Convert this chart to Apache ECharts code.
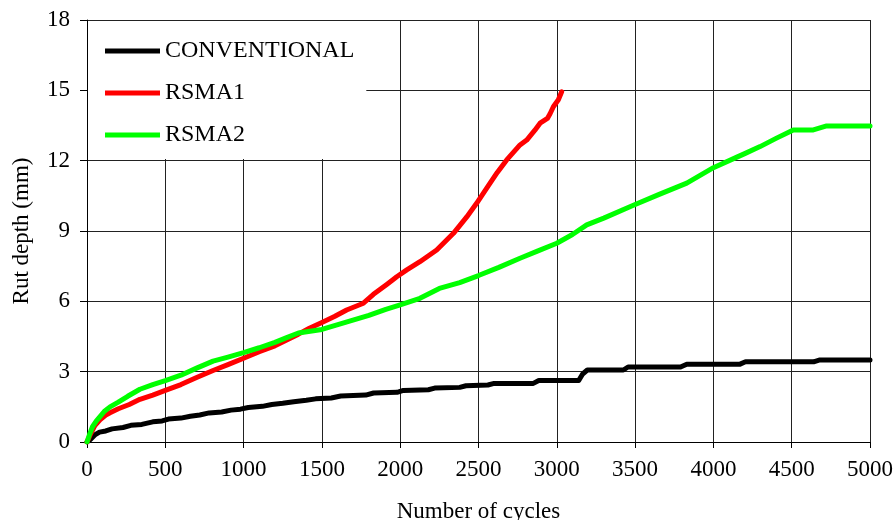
<!DOCTYPE html>
<html>
<head>
<meta charset="utf-8">
<script src="https://cdn.jsdelivr.net/npm/echarts@6/dist/echarts.min.js"></script>
<style>html,body{margin:0;padding:0;background:#fff}#c{width:896px;height:520px}</style>
</head>
<body>
<div id="c"></div>
<script>
const seriesNames = ['CONVENTIONAL', 'RSMA1', 'RSMA2'];
const xTicks = [0, 500, 1000, 1500, 2000, 2500, 3000, 3500, 4000, 4500, 5000];
const yTicks = [0, 3, 6, 9, 12, 15, 18];

const conventional = [
  [0,0],[20,0.1],[50,0.3],[80,0.42],[120,0.47],[160,0.56],[230,0.62],[280,0.71],[350,0.75],[420,0.86],[480,0.9],[520,0.98],[600,1.02],[660,1.1],[720,1.15],[780,1.24],[860,1.28],[920,1.36],[980,1.4],[1030,1.47],[1120,1.52],[1180,1.6],[1250,1.65],[1320,1.72],[1400,1.78],[1460,1.84],[1560,1.88],[1620,1.96],[1780,2.0],[1830,2.09],[1980,2.12],[2020,2.2],[2180,2.23],[2220,2.3],[2380,2.33],[2420,2.4],[2560,2.43],[2600,2.5],[2850,2.5],[2885,2.62],[3140,2.62],[3165,2.9],[3195,3.07],[3425,3.07],[3455,3.2],[3790,3.2],[3830,3.32],[4170,3.32],[4205,3.42],[4640,3.42],[4680,3.5],[5000,3.5]
];
const rsma1 = [
  [0,0],[20,0.3],[50,0.7],[83,0.95],[120,1.15],[147,1.25],[200,1.42],[270,1.6],[338,1.82],[420,2.0],[500,2.2],[600,2.45],[700,2.75],[805,3.05],[900,3.3],[1000,3.57],[1100,3.85],[1200,4.1],[1275,4.35],[1350,4.6],[1420,4.85],[1500,5.1],[1580,5.35],[1658,5.63],[1765,5.92],[1829,6.3],[1914,6.72],[1978,7.05],[2042,7.34],[2126,7.69],[2233,8.19],[2340,8.9],[2425,9.6],[2488,10.18],[2560,10.9],[2620,11.5],[2680,12.03],[2765,12.67],[2808,12.88],[2860,13.3],[2893,13.6],[2940,13.8],[2957,14.0],[2978,14.3],[3010,14.6],[3031,14.94]
];
const rsma2 = [
  [0,0],[15,0.3],[35,0.65],[60,0.9],[83,1.08],[110,1.3],[147,1.5],[200,1.7],[260,1.95],[338,2.25],[420,2.45],[500,2.62],[600,2.85],[700,3.15],[805,3.45],[900,3.62],[1000,3.81],[1100,4.02],[1200,4.25],[1275,4.45],[1350,4.65],[1500,4.8],[1650,5.1],[1800,5.4],[1908,5.66],[2000,5.85],[2126,6.13],[2250,6.55],[2380,6.8],[2500,7.1],[2630,7.45],[2765,7.84],[2880,8.15],[3000,8.48],[3100,8.85],[3191,9.26],[3300,9.55],[3489,10.1],[3650,10.55],[3830,11.04],[4000,11.7],[4150,12.15],[4200,12.3],[4298,12.6],[4400,12.95],[4510,13.31],[4638,13.31],[4723,13.48],[5000,13.48]
];

const colors = ['#000000', '#ff0000', '#00ff00'];
const datasets = [conventional, rsma1, rsma2];
const font = 'Liberation Serif';
const fs = 23;

const chart = echarts.init(document.getElementById('c'), null, {renderer: 'canvas'});
chart.setOption({
  animation: false,
  backgroundColor: '#fff',
  textStyle: {fontFamily: font},
  grid: {left: 87, right: 26, top: 20, bottom: 78, containLabel: false, outerBoundsMode: 'none'},
  legend: {
    orient: 'vertical',
    left: 88, top: 21,
    padding: [18, 12, 12, 17],
    backgroundColor: '#fff',
    itemWidth: 55, itemHeight: 5,
    itemGap: 18,
    icon: 'rect',
    data: seriesNames,
    textStyle: {fontFamily: font, fontSize: 24, color: '#000', lineHeight: 22}
  },
  xAxis: {
    type: 'value',
    min: xTicks[0], max: xTicks[xTicks.length - 1], interval: 500,
    name: 'Number of cycles', nameLocation: 'middle', nameGap: 58,
    nameTextStyle: {fontFamily: font, fontSize: fs, color: '#000'},
    axisLine: {show: true, lineStyle: {color: '#000', width: 1}},
    axisTick: {show: true, inside: false, length: 6, lineStyle: {color: '#000'}},
    axisLabel: {fontFamily: font, fontSize: fs, color: '#000', margin: 16, formatter: v => String(v)},
    splitLine: {show: true, lineStyle: {color: '#222', width: 1}}
  },
  yAxis: {
    type: 'value',
    min: yTicks[0], max: yTicks[yTicks.length - 1], interval: 3,
    name: 'Rut depth (mm)', nameLocation: 'middle', nameGap: 54, nameRotate: 90,
    nameTextStyle: {fontFamily: font, fontSize: fs, color: '#000'},
    axisLine: {show: true, lineStyle: {color: '#000', width: 1}},
    axisTick: {show: true, inside: false, length: 7, lineStyle: {color: '#000'}},
    axisLabel: {fontFamily: font, fontSize: fs, color: '#000', margin: 17, formatter: v => String(v)},
    splitLine: {show: true, lineStyle: {color: '#222', width: 1}}
  },
  series: seriesNames.map((n, i) => ({
    name: n,
    type: 'line',
    data: datasets[i],
    showSymbol: false,
    symbol: 'none',
    color: colors[i],
    lineStyle: {color: colors[i], width: 5, join: 'round', cap: 'round'},
    z: 2 + i
  }))
});
</script>
</body>
</html>
